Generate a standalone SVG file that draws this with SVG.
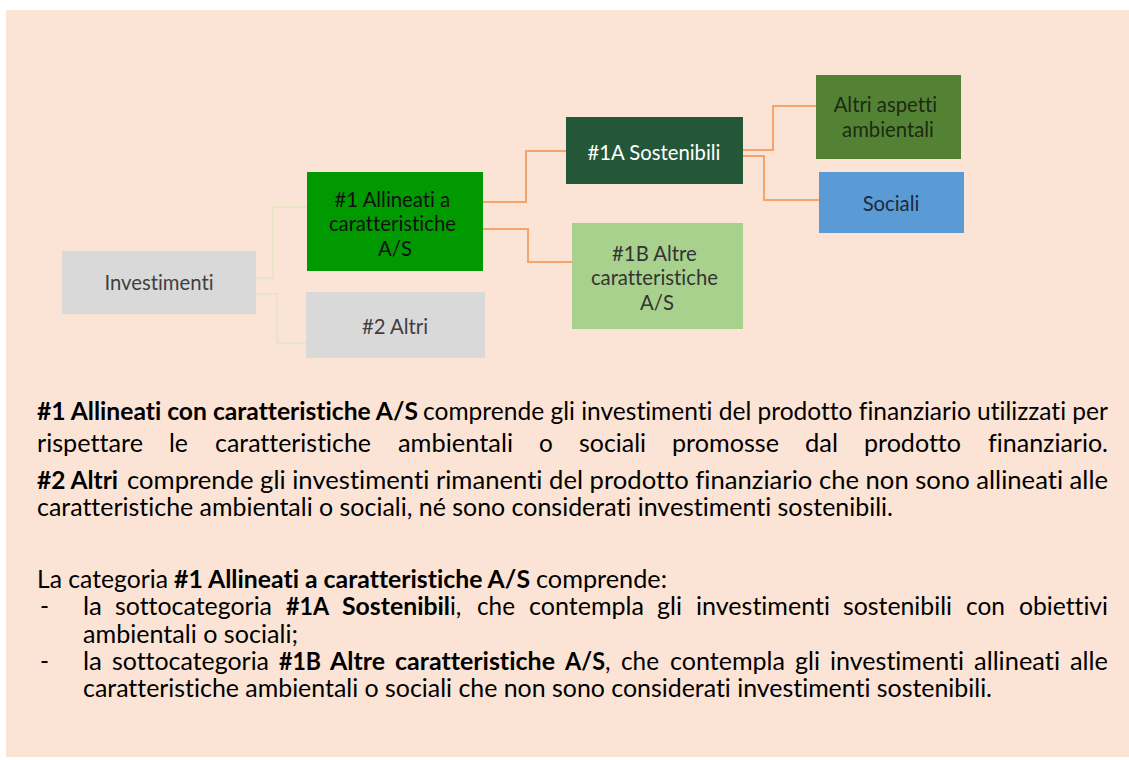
<svg xmlns="http://www.w3.org/2000/svg" width="1129" height="760" viewBox="0 0 1129 760">
<style>
.bg{fill:#fbe4d5}
.p{font-family:Lato,"Open Sans","Liberation Sans",sans-serif;font-size:24.3px;fill:#000;font-variant-ligatures:none;font-feature-settings:"liga" 0,"clig" 0}
.b{font-weight:bold}
.n{font-family:Lato,"Open Sans","Liberation Sans",sans-serif;font-size:20.3px;text-anchor:middle;font-variant-ligatures:none;font-feature-settings:"liga" 0,"clig" 0}
.c1{fill:none;stroke:#e6e2c0;stroke-width:1.5}
.c2{fill:none;stroke:#f4a46c;stroke-width:2}
</style>
<rect x="0" y="0" width="1129" height="760" fill="#ffffff"/>
<rect class="bg" x="6" y="10" width="1123" height="747"/>
<g id="connectors">
<path class="c1" d="M256,278 H273 V207 H307"/>
<path class="c1" d="M256,294 H277 V343 H306"/>
<path class="c2" d="M483,202 H526 V151 H566"/>
<path class="c2" d="M483,229 H528 V262 H572"/>
<path class="c2" d="M743,150 H773 V106 H816"/>
<path class="c2" d="M743,156 H764 V200 H819"/>
</g>
<g id="node-investimenti">
<rect x="62" y="251" width="194" height="63" fill="#d9d9d9"/>
<text class="n" x="159" y="290" fill="#404040">Investimenti</text>
</g>
<g id="node-1">
<rect x="307" y="172" width="176" height="99" fill="#009900"/>
<text class="n" x="395" fill="#111">
<tspan x="395" y="207">#1 Allineati a</tspan>
<tspan x="395" y="231">caratteristiche</tspan>
<tspan x="395" y="256">A/S</tspan>
</text>
</g>
<g id="node-2">
<rect x="306" y="292" width="179" height="66" fill="#d9d9d9"/>
<text class="n" x="395" y="334" fill="#404040">#2 Altri</text>
</g>
<g id="node-1a">
<rect x="566" y="117" width="177" height="67" fill="#245638"/>
<text class="n" x="654" y="160" fill="#ffffff">#1A Sostenibili</text>
</g>
<g id="node-altri-aspetti">
<rect x="816" y="75" width="145" height="84" fill="#548235"/>
<text class="n" x="888" fill="#1c2a12">
<tspan x="888" y="112">Altri aspetti</tspan>
<tspan x="888" y="137">ambientali</tspan>
</text>
</g>
<g id="node-sociali">
<rect x="819" y="172" width="145" height="61" fill="#5b9bd5"/>
<text class="n" x="891" y="211" fill="#1c2a3a">Sociali</text>
</g>
<g id="node-1b">
<rect x="572" y="223" width="171" height="106" fill="#a9d18e"/>
<text class="n" x="657" fill="#333333">
<tspan x="657" y="261">#1B Altre</tspan>
<tspan x="657" y="285">caratteristiche</tspan>
<tspan x="657" y="310">A/S</tspan>
</text>
</g>
<g id="text">
<text class="p b" x="37" y="420" textLength="381" lengthAdjust="spacingAndGlyphs">#1 Allineati con caratteristiche A/S</text>
<text class="p" x="423" y="420" textLength="685" lengthAdjust="spacingAndGlyphs">comprende gli investimenti del prodotto finanziario utilizzati per</text>
<text class="p" y="452" lengthAdjust="spacingAndGlyphs"><tspan x="37" textLength="106" lengthAdjust="spacingAndGlyphs">rispettare</tspan><tspan x="169" textLength="19" lengthAdjust="spacingAndGlyphs">le</tspan><tspan x="215" textLength="156" lengthAdjust="spacingAndGlyphs">caratteristiche</tspan><tspan x="398" textLength="115" lengthAdjust="spacingAndGlyphs">ambientali</tspan><tspan x="539">o</tspan><tspan x="579" textLength="67" lengthAdjust="spacingAndGlyphs">sociali</tspan><tspan x="672" textLength="107" lengthAdjust="spacingAndGlyphs">promosse</tspan><tspan x="805" textLength="33" lengthAdjust="spacingAndGlyphs">dal</tspan><tspan x="864" textLength="97" lengthAdjust="spacingAndGlyphs">prodotto</tspan><tspan x="988" textLength="120" lengthAdjust="spacingAndGlyphs">finanziario.</tspan></text>
<text class="p b" x="37" y="489" textLength="81" lengthAdjust="spacingAndGlyphs">#2 Altri</text>
<text class="p" x="127" y="489" textLength="981" lengthAdjust="spacingAndGlyphs">comprende gli investimenti rimanenti del prodotto finanziario che non sono allineati alle</text>
<text class="p" x="37" y="516" textLength="856" lengthAdjust="spacingAndGlyphs">caratteristiche ambientali o sociali, né sono considerati investimenti sostenibili.</text>
<text class="p" x="37" y="588" textLength="131" lengthAdjust="spacingAndGlyphs">La categoria</text>
<text class="p b" x="174" y="588" textLength="356" lengthAdjust="spacingAndGlyphs">#1 Allineati a caratteristiche A/S</text>
<text class="p" x="536" y="588" textLength="131" lengthAdjust="spacingAndGlyphs">comprende:</text>
<text class="p" y="615"><tspan x="40">-</tspan><tspan x="83" textLength="19" lengthAdjust="spacingAndGlyphs">la</tspan><tspan x="115" textLength="157" lengthAdjust="spacingAndGlyphs">sottocategoria</tspan><tspan x="286" class="b" textLength="43" lengthAdjust="spacingAndGlyphs">#1A</tspan><tspan x="342" class="b" textLength="108" lengthAdjust="spacingAndGlyphs">Sostenibil</tspan><tspan>i,</tspan><tspan x="477" textLength="38" lengthAdjust="spacingAndGlyphs">che</tspan><tspan x="529" textLength="115" lengthAdjust="spacingAndGlyphs">contempla</tspan><tspan x="657" textLength="25" lengthAdjust="spacingAndGlyphs">gli</tspan><tspan x="696" textLength="134" lengthAdjust="spacingAndGlyphs">investimenti</tspan><tspan x="843" textLength="109" lengthAdjust="spacingAndGlyphs">sostenibili</tspan><tspan x="966" textLength="39" lengthAdjust="spacingAndGlyphs">con</tspan><tspan x="1019" textLength="89" lengthAdjust="spacingAndGlyphs">obiettivi</tspan></text>
<text class="p" x="83" y="643" textLength="215" lengthAdjust="spacingAndGlyphs">ambientali o sociali;</text>
<text class="p" y="670"><tspan x="40">-</tspan><tspan x="83" textLength="19" lengthAdjust="spacingAndGlyphs">la</tspan><tspan x="112" textLength="157" lengthAdjust="spacingAndGlyphs">sottocategoria</tspan><tspan x="279" class="b" textLength="42" lengthAdjust="spacingAndGlyphs">#1B</tspan><tspan x="330" class="b" textLength="55" lengthAdjust="spacingAndGlyphs">Altre</tspan><tspan x="395" class="b" textLength="160" lengthAdjust="spacingAndGlyphs">caratteristiche</tspan><tspan x="565" class="b" textLength="40" lengthAdjust="spacingAndGlyphs">A/S</tspan><tspan>,</tspan><tspan x="621" textLength="38" lengthAdjust="spacingAndGlyphs">che</tspan><tspan x="670" textLength="115" lengthAdjust="spacingAndGlyphs">contempla</tspan><tspan x="795" textLength="25" lengthAdjust="spacingAndGlyphs">gli</tspan><tspan x="830" textLength="134" lengthAdjust="spacingAndGlyphs">investimenti</tspan><tspan x="974" textLength="86" lengthAdjust="spacingAndGlyphs">allineati</tspan><tspan x="1070" textLength="38" lengthAdjust="spacingAndGlyphs">alle</tspan></text>
<text class="p" x="83" y="697" textLength="909" lengthAdjust="spacingAndGlyphs">caratteristiche ambientali o sociali che non sono considerati investimenti sostenibili.</text>
</g>
</svg>
